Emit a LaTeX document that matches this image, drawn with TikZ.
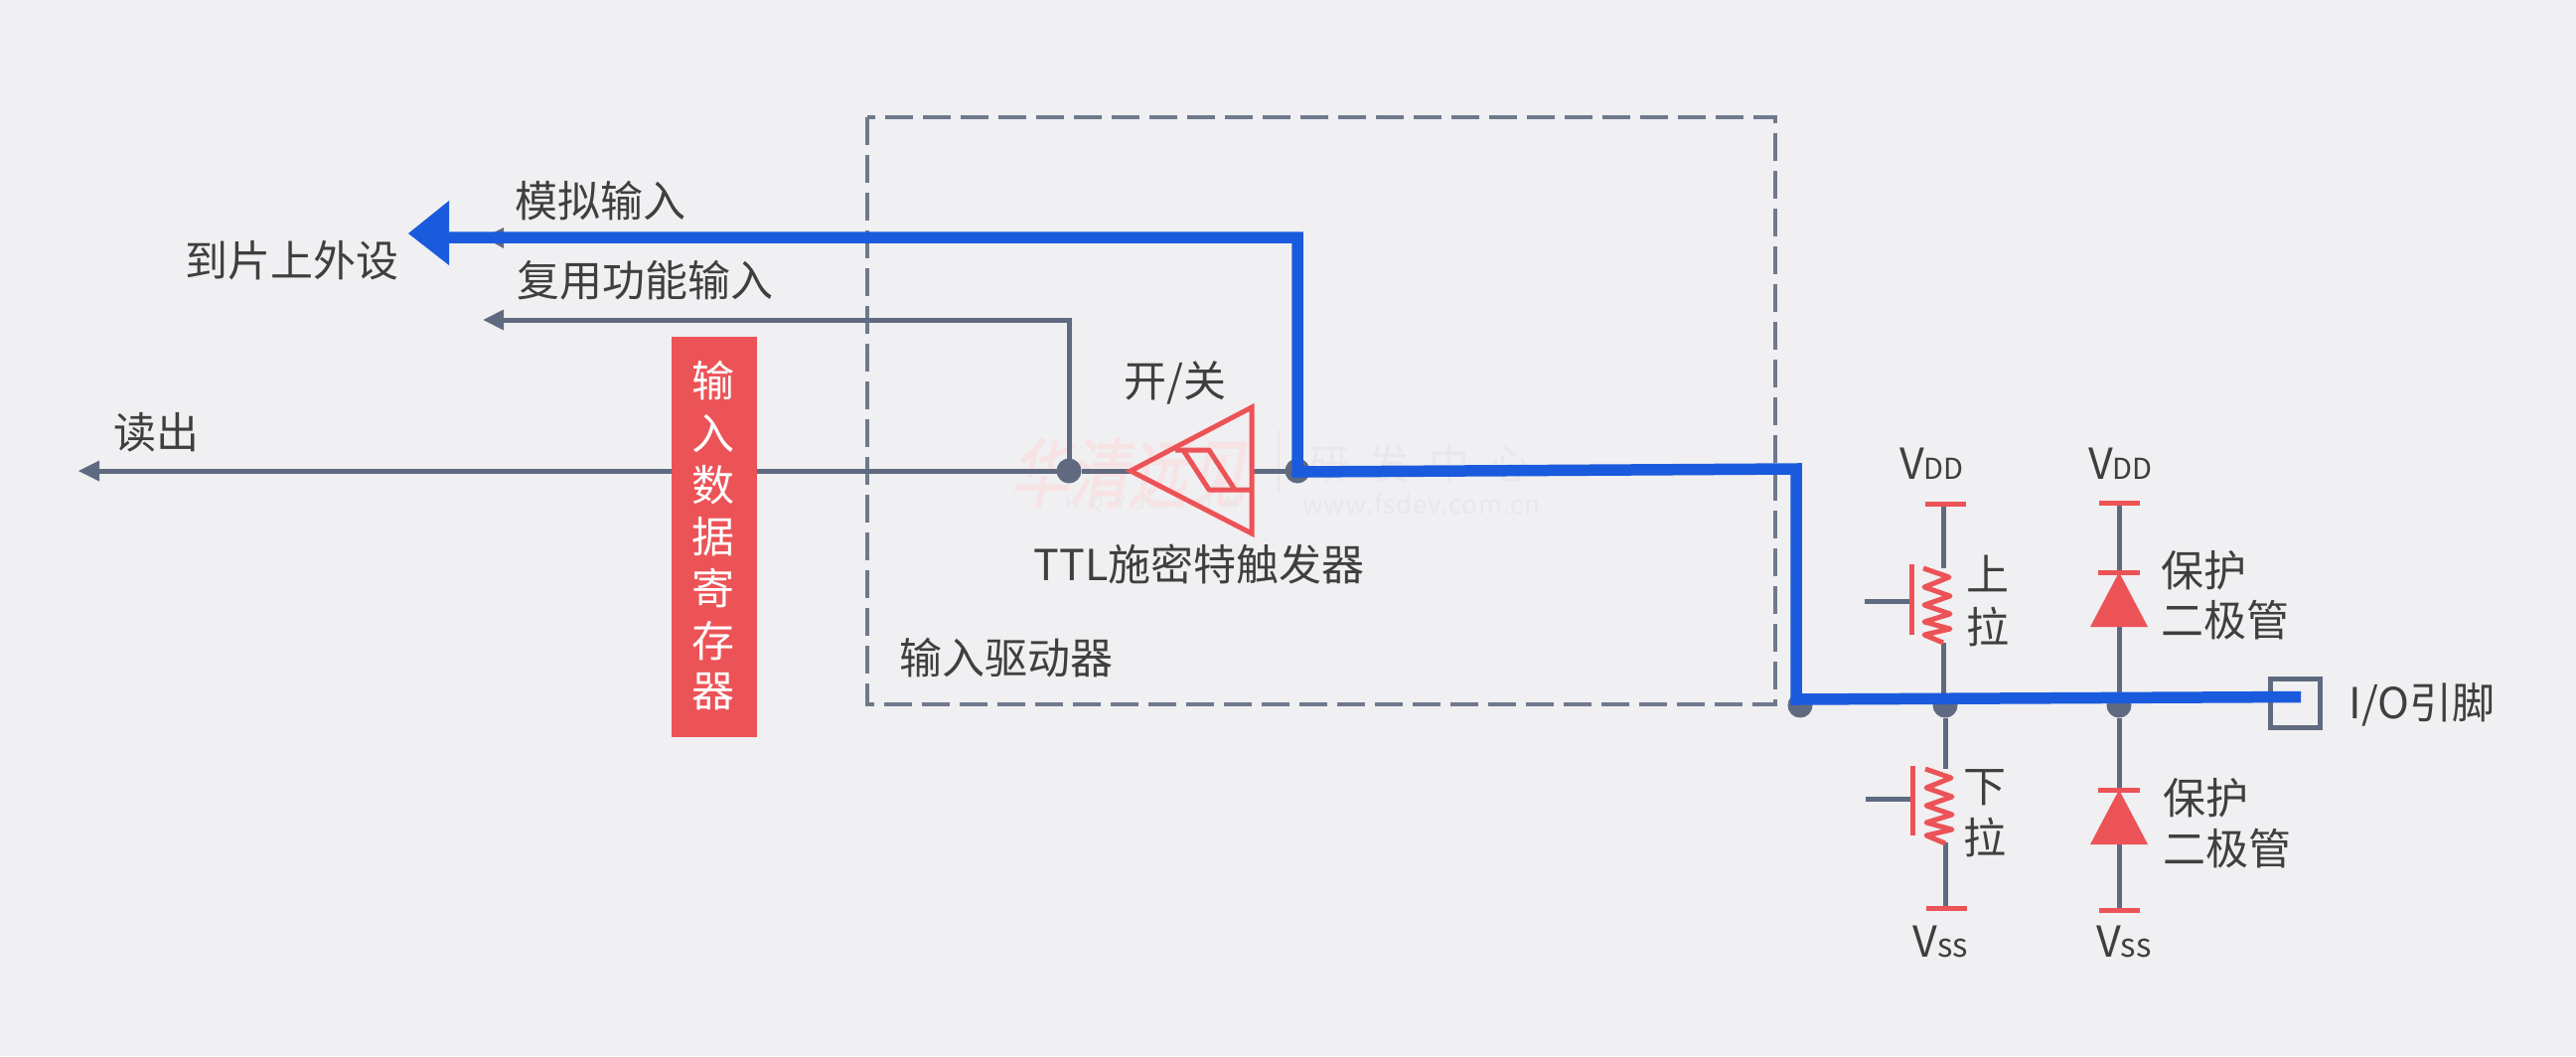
\documentclass[tikz,border=0pt]{standalone}
\usepackage{fontspec}
\setmainfont{Noto Sans CJK SC}
\newfontfamily\wmfont[FakeSlant=0.2,FakeBold=1,FakeStretch=0.78]{Noto Sans CJK SC}
\newfontfamily\wmlat[LetterSpace=70]{Noto Sans CJK SC}
\newfontfamily\wmlatb[LetterSpace=3]{Noto Sans CJK SC}
\newfontfamily\wmcn[LetterSpace=48]{Noto Sans CJK SC}
\usetikzlibrary{arrows.meta}
\definecolor{bgc}{HTML}{F0EFF1}
\definecolor{grayc}{HTML}{5F6A80}
\definecolor{bluec}{HTML}{1A5BDD}
\definecolor{redc}{HTML}{EC5357}
\definecolor{txtc}{HTML}{3F3F3F}
\definecolor{wmred}{HTML}{F7E3E4}
\definecolor{wmgray}{HTML}{E8E8EA}
\newcommand\fsz[1]{\fontsize{#1}{#1}\selectfont}
\newcommand\vsup[1]{{\fsz{43}V}{\fsz{29}#1}}
\newcommand\vsub[1]{{\fsz{43}V}{\fsz{33}#1}}
\tikzset{
  lbl/.style={inner sep=0pt,outer sep=0pt,text=txtc,font=\fsz{43},anchor=center},
  vlbl/.style={inner sep=0pt,outer sep=0pt,text=txtc,anchor=base},
  regchar/.style={inner sep=0pt,outer sep=0pt,text=white,font=\fsz{43}},
  wire/.style={draw=grayc,line width=5pt},
  headg/.style={fill=grayc},
  bluew/.style={draw=bluec,line width=11.5pt,line join=miter},
  redl/.style={draw=redc,line width=5pt},
  dot/.style={circle,fill=grayc,inner sep=0pt,outer sep=0pt,minimum size=25pt},
  rail/.style={draw=redc,line width=5pt},
  dashbox/.style={draw=grayc!90,line width=3.5pt,dash pattern=on 28pt off 10pt},
  zig/.pic={\draw[redl,line join=round] (-20,0)--(6,9)--(-19,19)--(7,28)--(-19,37)--(7,46)--(-19,54)--(7,61)--(-19,67)--(0,75);},
  diodeshape/.pic={
    \draw[rail] (-21,0)--(21,0);
    \fill[redc] (0,0)--(29,55)--(-29,55)--cycle;
  },
}
\begin{document}
\begin{tikzpicture}[x=1pt,y=-1pt]
\fill[bgc] (0,0) rectangle (2593,1063);
\useasboundingbox (0,0) rectangle (2593,1063);

% watermark
\node[inner sep=0pt,text=wmred,font=\wmfont\fsz{76}] (wm1) at (1135,476) {华清远见};
\node[inner sep=0pt,text=wmgray,font=\wmlat\fsz{18},anchor=west] (wm2) at (1072,507) {HQYJ.COM};
\node[inner sep=0pt,text=wmgray,font=\wmcn\fsz{41},anchor=west] (wm3) at (1317,467) {研发中心};
\node[inner sep=0pt,text=wmgray,font=\wmlatb\fsz{26}] (wm4) at (1431,507) {www.fsdev.com.cn};
\coordinate (wmA) at (1287,433);
\coordinate (wmB) at (1287,497);
\draw[wmgray,line width=1.5pt] (wmA)--(wmB);

% dashed box
\coordinate (dbA) at (873,118);
\coordinate (dbB) at (1787,709);
\draw[dashbox] (dbA) rectangle (dbB);

% coordinates and junctions
\node[dot] (j1) at (1076,474) {};
\node[dot] (j2) at (1306,474) {};
\node[dot] (j3) at (1812,710) {};
\node[dot] (j4) at (1958,710) {};
\node[dot] (j5) at (2133,710) {};

\coordinate (readTip) at (98,474);
\coordinate (muxTip) at (505,322);
\coordinate (anaTip) at (505,239);
\coordinate (anaCorner) at (1306,239);
\coordinate (trigIn) at (1138,474);
\coordinate (trigOut) at (1260,474);

% gray wires
\draw[wire] (j1)--(readTip);
\fill[headg] (79,474)--(100,463.5)--(100,484.5)--cycle;
\draw[wire] (j1)--(1076,322)--(muxTip);
\fill[headg] (486.5,322)--(507,311.5)--(507,332.5)--cycle;
\fill[headg] (487,239)--(507,229)--(507,250)--cycle;
\draw[wire] (j1)--(trigIn);
\draw[wire] (trigOut)--(j2);

% register
\node[fill=redc,inner sep=0pt,minimum width=86pt,minimum height=403pt] (reg) at (719,540.5) {};
\node[regchar] (r1) at (718,383) {输};
\node[regchar] (r2) at (718,436) {入};
\node[regchar] (r3) at (718,488) {数};
\node[regchar] (r4) at (718,540) {据};
\node[regchar] (r5) at (718,592) {寄};
\node[regchar] (r6) at (718,645) {存};
\node[regchar] (r7) at (718,696) {器};

% schmitt trigger
\draw[redl,line join=miter] (1138,474)--(1260,410)--(1260,537)--cycle;
\draw[redl,line join=round] (1183,453)--(1217,453)--(1243,493);
\draw[redl,line join=round] (1191,453)--(1217,493)--(1260,493);

% pull-up / pull-down column
\coordinate (vddL) at (1956,507);
\coordinate (puT) at (1956,572);
\coordinate (puB) at (1956,647);
\coordinate (puJ) at (1956,700);
\coordinate (pdT) at (1958,774);
\coordinate (pdB) at (1958,848);
\coordinate (vssL) at (1958,914);
\draw[wire] (vddL)--(puT);
\draw[wire] (puB)--(puJ);
\draw[wire] (j4)--(pdT);
\draw[wire] (pdB)--(vssL);
\draw[rail] (1937.5,507)--(1979,507);
\draw[rail] (1939,914)--(1980,914);
\pic at (1956,572) {zig};
\pic at (1958,774) {zig};
\draw[redl] (1924,568)--(1924,639);
\draw[redl] (1925,771)--(1925,841);
\coordinate (gU) at (1877,605);
\coordinate (gUe) at (1922,605);
\coordinate (gD) at (1878,804);
\coordinate (gDe) at (1923,804);
\draw[wire] (gU)--(gUe);
\draw[wire] (gD)--(gDe);

% diode column
\coordinate (vddR) at (2133,506);
\coordinate (dU) at (2133,576);
\coordinate (dUb) at (2133,631);
\coordinate (dD) at (2133,795);
\coordinate (dDb) at (2133,850);
\coordinate (vssR) at (2133,916);
\draw[wire] (vddR)--(dU);
\draw[wire] (dUb)--(j5);
\draw[wire] (j5)--(dD);
\draw[wire] (dDb)--(vssR);
\draw[rail] (2112.5,506)--(2154,506);
\draw[rail] (2112.5,916)--(2154,916);
\pic at (2133,576) {diodeshape};
\pic at (2133,795) {diodeshape};

% pin
\node[draw=grayc,line width=5pt,inner sep=0pt,minimum width=50pt,minimum height=49pt,outer sep=0pt] (pin) at (2310,708) {};

% blue signal path
\coordinate (pinIn) at (2316,701.5);
\coordinate (bA) at (1808,472);
\coordinate (bB) at (1808,704);
\coordinate (anaEnd) at (452,239);
\draw[bluew] (anaEnd)--(anaCorner)--(1306,475)--(bA)--(bB)--(pinIn);
\fill[bluec] (411,235)--(452,202)--(452,267)--cycle;

% labels
\node[lbl] (t1) at (604.5,202) {模拟输入};
\node[lbl] (t2) at (294,262) {到片上外设};
\node[lbl] (t3) at (649.5,282) {复用功能输入};
\node[lbl] (t4) at (157,435) {读出};
\node[lbl] (t5) at (1183,385) {开/关};
\node[lbl] (t6) at (1207,568) {TTL施密特触发器};
\node[lbl] (t7) at (1013,662) {输入驱动器};
\node[lbl] (t8) at (2438,709) {I/O引脚};
\node[lbl] (t9) at (2000.5,577) {上};
\node[lbl] (t10) at (2000.5,631) {拉};
\node[lbl] (t11) at (1998,793) {下};
\node[lbl] (t12) at (1998,843) {拉};
\node[lbl,anchor=west] (t13) at (2175,574) {保护};
\node[lbl,anchor=west] (t14) at (2175,624) {二极管};
\node[lbl,anchor=west] (t15) at (2177,803) {保护};
\node[lbl,anchor=west] (t16) at (2177,854) {二极管};
\node[vlbl] (v1) at (1944.5,482.5) {\vsup{DD}};
\node[vlbl] (v2) at (2134.5,482.5) {\vsup{DD}};
\node[vlbl] (v3) at (1953.5,963) {\vsub{ss}};
\node[vlbl] (v4) at (2138,963) {\vsub{ss}};
\end{tikzpicture}
\end{document}
